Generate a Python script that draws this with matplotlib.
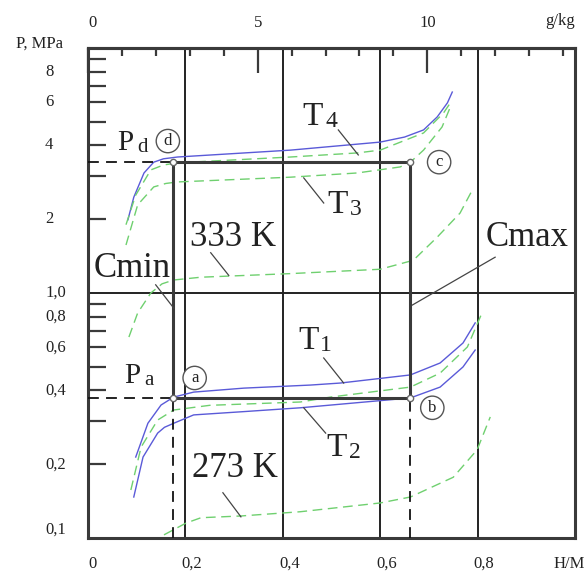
import matplotlib
matplotlib.use("Agg")
import numpy as np
import matplotlib.pyplot as plt
import matplotlib.transforms as mtransforms

plt.rcParams['font.family'] = ['Liberation Serif', 'DejaVu Serif']

# isotherms, H/M vs P (MPa)
t4_x = [0.082, 0.094, 0.115, 0.135, 0.155, 0.184, 0.416, 0.600, 0.650, 0.689, 0.717, 0.738, 0.748]
t4_p = [1.99, 2.46, 3.09, 3.42, 3.53, 3.59, 3.83, 4.13, 4.33, 4.63, 5.23, 5.97, 6.61]

g4_x = [0.078, 0.098, 0.129, 0.155, 0.184, 0.416, 0.553, 0.600, 0.689, 0.730, 0.744]
g4_p = [1.90, 2.51, 3.18, 3.33, 3.40, 3.59, 3.73, 3.83, 4.50, 5.43, 5.97]

t3_x = [0.078, 0.102, 0.135, 0.160, 0.184, 0.416, 0.553, 0.641, 0.662, 0.689, 0.727, 0.744]
t3_p = [1.57, 2.29, 2.71, 2.80, 2.84, 2.97, 3.09, 3.27, 3.42, 3.83, 4.76, 5.74]

h333_x = [0.084, 0.102, 0.129, 0.152, 0.176, 0.232, 0.416, 0.600, 0.668, 0.717, 0.764, 0.789]
h333_p = [0.661, 0.829, 1.00, 1.09, 1.13, 1.16, 1.20, 1.25, 1.36, 1.69, 2.12, 2.63]

t1_x = [0.098, 0.123, 0.150, 0.176, 0.217, 0.320, 0.457, 0.518, 0.662, 0.723, 0.770, 0.795]
t1_p = [0.214, 0.294, 0.349, 0.376, 0.394, 0.409, 0.421, 0.429, 0.463, 0.518, 0.625, 0.755]

g1_x = [0.088, 0.109, 0.143, 0.176, 0.250, 0.436, 0.498, 0.662, 0.723, 0.779, 0.809]
g1_p = [0.157, 0.235, 0.303, 0.333, 0.348, 0.359, 0.376, 0.413, 0.471, 0.602, 0.829]

t2_x = [0.094, 0.113, 0.143, 0.157, 0.176, 0.217, 0.320, 0.436, 0.662, 0.723, 0.770, 0.795]
t2_p = [0.147, 0.214, 0.268, 0.283, 0.294, 0.318, 0.328, 0.340, 0.373, 0.413, 0.499, 0.585]

h273_x = [0.156, 0.201, 0.232, 0.314, 0.436, 0.600, 0.662, 0.750, 0.799, 0.826]
h273_p = [0.103, 0.115, 0.121, 0.123, 0.128, 0.139, 0.147, 0.177, 0.229, 0.312]

# cycle a-b-c-d
c_min, c_max = 0.174, 0.661
p_a, p_d = 0.373, 3.42

y_ticks = [0.2, 0.3, 0.4, 0.5, 0.6, 0.7, 0.8, 0.9, 2, 3, 4, 5, 6, 7, 8, 9]
y_labels = {0.1: '0,1', 0.2: '0,2', 0.4: '0,4', 0.6: '0,6', 0.8: '0,8',
            1.0: '1,0', 2: '2', 4: '4', 6: '6', 8: '8'}
x_labels = {0: '0', 0.2: '0,2', 0.4: '0,4', 0.6: '0,6', 0.8: '0,8'}
gkg_per_hm = 14.35

dark = '#3a3a3a'
blue = '#5a5ad8'
green = '#6fd06f'

fig = plt.figure(figsize=(5.86, 5.75), dpi=100)
ax = fig.add_axes([88 / 586, 1 - 538 / 575, 487 / 586, 490 / 575])
ax.set_yscale('log')
ax.set_xlim(0, 1.0)
ax.set_ylim(0.1, 10)

for s in ax.spines.values():
    s.set_linewidth(2.2)
    s.set_color(dark)

# grid
for gx in [0.2, 0.4, 0.6, 0.8]:
    ax.axvline(gx, color='#222', lw=1.4, zorder=1)
ax.axhline(1.0, color='#222', lw=1.4, zorder=1)

# y ticks
ax.yaxis.set_minor_locator(matplotlib.ticker.NullLocator())
ax.set_yticks(y_ticks)
ax.set_yticklabels([])
ax.tick_params(axis='y', direction='in', length=13, width=1.6, color=dark)
ax.set_xticks([])
ytr = mtransforms.blended_transform_factory(fig.transFigure, ax.transData)
for v, lab in y_labels.items():
    ax.text(45 / 586, v, lab, transform=ytr, ha='left',
            va='bottom' if v == 0.1 else 'center', fontsize=12, color='#222')

# bottom labels
xtr = mtransforms.blended_transform_factory(ax.transData, fig.transFigure)
for v, lab in x_labels.items():
    ax.text(v if v == 0 else v - 0.008, 1 - 564 / 575, lab, transform=xtr,
            ha='left', va='center', fontsize=12, color='#222')
fig.text(585 / 586, 1 - 564 / 575, 'H/M', ha='right', va='center', fontsize=12, color='#222')

# top axis g/kg
sec = ax.secondary_xaxis('top', functions=(lambda x: x * gkg_per_hm, lambda g: g / gkg_per_hm))
sec.set_xticks([0, 5, 10])
sec.set_xticklabels(['0', '5', '10'], fontsize=12, color='#222')
sec.set_xticks([g for g in range(1, 15) if g not in (5, 10)], minor=True)
sec.tick_params(which='major', direction='in', length=18, width=1.6, color=dark, pad=12)
sec.tick_params(which='minor', direction='in', length=6, width=1.6, color=dark)
sec.spines['top'].set_linewidth(2.2)
sec.spines['top'].set_color(dark)
sec.get_xticklabels()[0].set_ha('left')
fig.text(560 / 586, 1 - 21 / 575, 'g/kg', ha='center', va='center', fontsize=12, color='#222')
fig.text(40 / 586, 1 - 44 / 575, 'P, MPa', ha='center', va='center', fontsize=12, color='#222')

# curves
dash = (0, (7, 4))
ax.plot(t4_x, t4_p, color=blue, lw=1.0, zorder=3)
ax.plot(t1_x, t1_p, color=blue, lw=1.0, zorder=3)
ax.plot(t2_x, t2_p, color=blue, lw=1.0, zorder=3)
for xs, ps in [(g4_x, g4_p), (t3_x, t3_p), (h333_x, h333_p), (g1_x, g1_p), (h273_x, h273_p)]:
    ax.plot(xs, ps, color=green, lw=1.0, ls=dash, zorder=3)

# cycle box
ax.plot([c_min, c_max, c_max, c_min, c_min], [p_a, p_a, p_d, p_d, p_a],
        color=dark, lw=2.2, zorder=4)
ax.plot([0, c_min], [p_a, p_a], color='#111', lw=1.3, ls=(0, (6, 4)), zorder=4)
ax.plot([0, c_min], [p_d, p_d], color='#111', lw=1.3, ls=(0, (6, 4)), zorder=4)
ax.plot([c_min, c_min], [0.1, p_a], color='#111', lw=1.3, ls=(0, (6, 4)), zorder=4)
ax.plot([c_max, c_max], [0.1, p_a], color='#111', lw=1.3, ls=(0, (6, 4)), zorder=4)
ax.plot([c_min, c_max, c_max, c_min], [p_a, p_a, p_d, p_d], 'o', ms=4.5,
        mfc='white', mec='#666', mew=1.0, zorder=5)

# circled letters
for lx, ly, s in [(0.164, 4.17, 'd'), (0.721, 3.42, 'c'), (0.219, 0.450, 'a'), (0.707, 0.340, 'b')]:
    ax.text(lx, ly, s, ha='center', va='center', fontsize=12, color='#222', zorder=6,
            bbox=dict(boxstyle='circle,pad=0.22', fc='white', ec='#555', lw=1.0))

# Pd, Pa
ax.text(0.076, 4.10, 'P', ha='center', va='center', fontsize=21, color='#222')
ax.text(0.111, 3.94, 'd', ha='center', va='center', fontsize=15, color='#222')
ax.text(0.090, 0.458, 'P', ha='center', va='center', fontsize=21, color='#222')
ax.text(0.125, 0.441, 'a', ha='center', va='center', fontsize=15, color='#222')

# T labels with leaders
t_labels = [
    (0.461, 5.23, 0.500, 4.99, '4', (0.514, 0.555), (4.63, 3.66)),
    (0.512, 2.29, 0.549, 2.20, '3', (0.443, 0.484), (2.95, 2.33)),
    (0.453, 0.637, 0.489, 0.608, '1', (0.484, 0.525), (0.543, 0.429)),
    (0.510, 0.233, 0.549, 0.224, '2', (0.443, 0.488), (0.340, 0.268)),
]
for tx, ty, sx, sy, sub, lxs, lys in t_labels:
    ax.text(tx, ty, 'T', ha='center', va='center', fontsize=24, color='#222')
    ax.text(sx, sy, sub, ha='center', va='center', fontsize=17, color='#222')
    ax.plot(lxs, lys, color='#444', lw=0.9, zorder=4)

# other labels with leaders
for tx, ty, s, lxs, lys in [
    (0.297, 1.68, '333 K', (0.252, 0.289), (1.46, 1.18)),
    (0.301, 0.193, '273 K', (0.277, 0.314), (0.153, 0.122)),
    (0.090, 1.26, 'Cmin', (0.139, 0.176), (1.08, 0.868)),
    (0.902, 1.68, 'Cmax', (0.836, 0.666), (1.40, 0.893)),
]:
    ax.text(tx, ty, s, ha='center', va='center', fontsize=25, color='#222')
    ax.plot(lxs, lys, color='#444', lw=0.9, zorder=4)

fig.savefig('out.png', dpi=100)
